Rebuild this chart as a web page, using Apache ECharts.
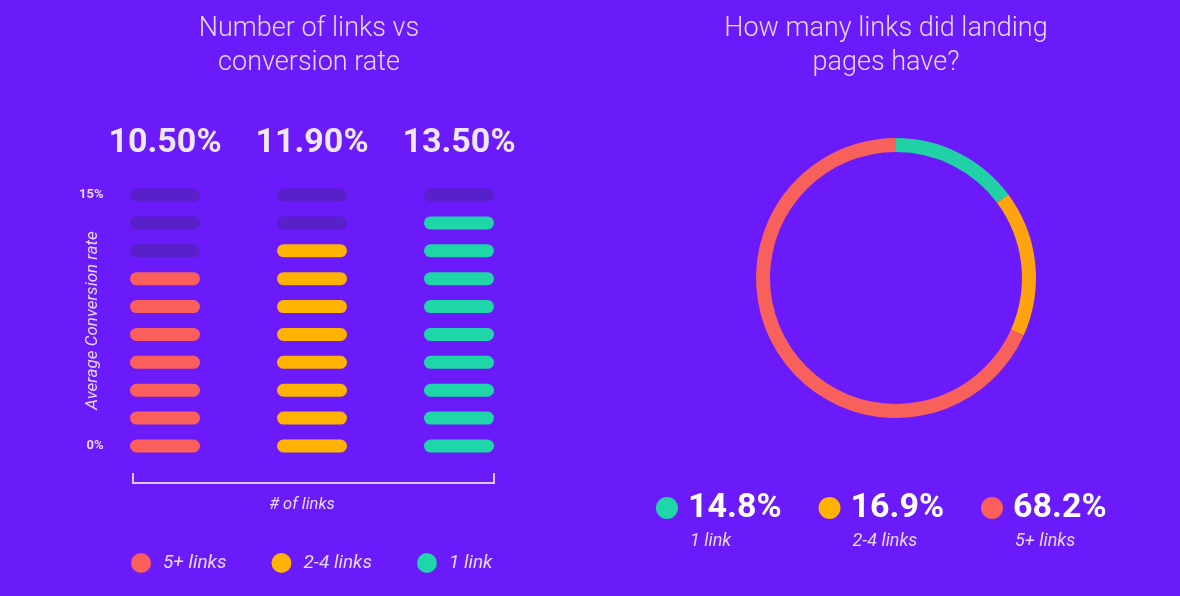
<!DOCTYPE html>
<html>
<head>
<meta charset="utf-8">
<title>Links vs conversion rate</title>
<script src="https://cdn.jsdelivr.net/npm/echarts@6/dist/echarts.min.js"></script>
<style>
    html, body { margin: 0; padding: 0; background: #6b1af9; }
    #chart { width: 1180px; height: 596px; }
</style>
</head>
<body>
<div id="chart"></div>
<script>
// left chart: average conversion rate by number of links
const linkGroups = ['5+ links', '2-4 links', '1 link'];
const conversionRates = [10.5, 11.9, 13.5];
const rateTicks = [0, 15];
const pillCount = 10;
const pillUnit = 1.5;   // one pill = 1.5%

// right chart: how many links landing pages had
const shareNames = ['1 link', '2-4 links', '5+ links'];
const shareValues = [14.8, 16.9, 68.2];

const groupColors = ['#fa5f5b', '#ffb300', '#1fd6a8'];
const pieColors = ['#1fd1a5', '#ffa30e', '#f8605c'];
const emptyColor = '#5720c8';
const textColor = '#e6d8f8';
const pill = 'path://M6.5 0H63.5A6.5 6.5 0 0 1 63.5 13H6.5A6.5 6.5 0 0 1 6.5 0Z';

let chart = echarts.init(document.getElementById('chart'));

// pills stacked from the bottom, filled ones take the group colour
const step = rateTicks[1] / (pillCount - 1);
const emptyPills = [];
const groupSeries = linkGroups.map((name, c) => {
    const filled = Math.round(conversionRates[c] / pillUnit);
    const data = [];
    for (let k = 0; k < pillCount; k++) {
        if (k < filled) data.push([c, k * step]);
        else emptyPills.push([c, k * step]);
    }
    return {
        name: name,
        type: 'scatter',
        symbol: pill,
        symbolSize: [70, 13],
        itemStyle: { color: groupColors[c], opacity: 1 },
        silent: true,
        data: data
    };
});

let option = {
    backgroundColor: '#6b1af9',
    animation: false,
    title: [
        {
            text: 'Number of links vs\nconversion rate',
            left: 309, top: 12, padding: 0, textAlign: 'center',
            textStyle: { color: textColor, fontFamily: 'Roboto', fontWeight: 300, fontSize: 27, lineHeight: 34 }
        },
        {
            text: 'How many links did landing\npages have?',
            left: 886, top: 12, padding: 0, textAlign: 'center',
            textStyle: { color: textColor, fontFamily: 'Roboto', fontWeight: 300, fontSize: 27, lineHeight: 34 }
        }
    ],
    legend: [
        {
            data: linkGroups,
            left: 126, top: 548,
            icon: 'circle', itemWidth: 20, itemHeight: 20, itemGap: 45,
            selectedMode: false,
            textStyle: { color: textColor, fontFamily: 'Roboto', fontStyle: 'italic', fontSize: 19, padding: [0, 0, 0, 7] }
        },
        {
            data: shareNames,
            left: 651, top: 465,
            icon: 'circle', itemWidth: 22, itemHeight: 22, itemGap: 37,
            selectedMode: false,
            formatter: function (name) {
                const i = shareNames.indexOf(name);
                return '{s| }\n{v|' + shareValues[i].toFixed(1) + '%}\n{n|' + name + '}';
            },
            textStyle: {
                padding: [0, 0, 0, 5],
                rich: {
                    s: { height: 28, fontSize: 10 },
                    v: { height: 38, fontSize: 34, fontWeight: 'bold', fontFamily: 'Roboto', color: '#ffffff' },
                    n: { height: 28, fontSize: 18, fontStyle: 'italic', fontFamily: 'Roboto', color: textColor, padding: [0, 0, 0, 2] }
                }
            }
        }
    ],
    grid: { left: 91.5, right: 647.5, top: 195, bottom: 150 },
    xAxis: [
        {
            type: 'category',
            data: linkGroups,
            axisLine: { show: false },
            axisTick: { show: false },
            axisLabel: { show: false },
            name: '# of links',
            nameLocation: 'middle',
            nameGap: 50,
            nameTextStyle: { color: textColor, fontFamily: 'Roboto', fontStyle: 'italic', fontSize: 16.5, padding: [0, 20, 0, 0] }
        },
        {
            type: 'category',
            position: 'top',
            data: linkGroups,
            axisLine: { show: false },
            axisTick: { show: false },
            axisLabel: {
                margin: 35,
                color: '#eee8f6',
                fontFamily: 'Roboto',
                fontWeight: 'bold',
                fontSize: 34,
                formatter: function (v, i) { return conversionRates[i].toFixed(2) + '%'; }
            }
        }
    ],
    yAxis: {
        type: 'value',
        min: rateTicks[0], max: rateTicks[1], interval: rateTicks[1],
        offset: -20,
        splitLine: { show: false },
        axisLine: { show: false },
        axisTick: { show: false },
        axisLabel: { color: textColor, fontFamily: 'Roboto', fontWeight: 'bold', fontSize: 13, margin: 8, formatter: '{value}%' },
        name: 'Average Conversion rate',
        nameLocation: 'middle',
        nameMoveOverlap: false,
        nameGap: 10,
        nameTextStyle: { color: textColor, fontFamily: 'Roboto', fontStyle: 'italic', fontSize: 17 }
    },
    graphic: [
        {
            type: 'polyline',
            silent: true,
            shape: { points: [[133, 473], [133, 483], [494, 483], [494, 473]] },
            style: { stroke: '#d9c8f6', lineWidth: 2, fill: null }
        }
    ],
    series: [
        {
            name: 'empty',
            type: 'scatter',
            symbol: pill,
            symbolSize: [70, 13],
            itemStyle: { color: emptyColor, opacity: 1 },
            silent: true,
            data: emptyPills
        }
    ].concat(groupSeries).concat([
        {
            name: 'share',
            type: 'pie',
            center: [896, 278],
            radius: [126, 140],
            startAngle: 90,
            clockwise: true,
            silent: true,
            label: { show: false },
            labelLine: { show: false },
            emphasis: { disabled: true },
            data: shareNames.map((n, i) => ({ name: n, value: shareValues[i], itemStyle: { color: pieColors[i] } }))
        }
    ])
};

chart.setOption(option);
</script>
</body>
</html>
